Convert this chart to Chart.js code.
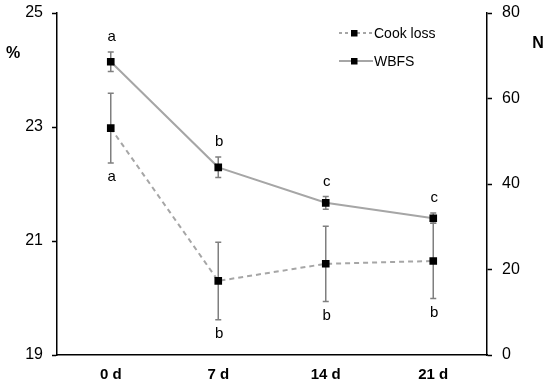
<!DOCTYPE html>
<html>
<head>
<meta charset="utf-8">
<script src="https://cdn.jsdelivr.net/npm/chart.js@4.4.1/dist/chart.umd.min.js"></script>
<style>
html,body{margin:0;padding:0;background:#fff;}
canvas{display:block;}
</style>
</head>
<body>
<canvas id="c" width="550" height="386"></canvas>
<script>
const categories = ['0 d', '7 d', '14 d', '21 d'];
const cookLoss = [22.98, 20.30, 20.60, 20.65];
const cookLossErr = [0.61, 0.68, 0.66, 0.66];
const cookLossLetters = ['a', 'b', 'b', 'b'];
const wbfs = [68.6, 43.9, 35.6, 32.0];
const wbfsErr = [2.3, 2.4, 1.5, 1.2];
const wbfsLetters = ['a', 'b', 'c', 'c'];
const leftTicks = [19, 21, 23, 25];
const rightTicks = [0, 20, 40, 60, 80];

const FONT = "'Liberation Sans', Arial, sans-serif";
const LINE_GRAY = '#a6a6a6';
const ERR_GRAY = '#7f7f7f';

const errPlugin = {
  id: 'errbars',
  beforeDatasetsDraw(chart) {
    const ctx = chart.ctx;
    const sets = [
      {vals: cookLoss, err: cookLossErr, axis: 'y'},
      {vals: wbfs, err: wbfsErr, axis: 'y1'}
    ];
    ctx.save();
    ctx.strokeStyle = ERR_GRAY;
    ctx.lineWidth = 1.5;
    sets.forEach(s => {
      const sc = chart.scales[s.axis];
      s.vals.forEach((v, i) => {
        const x = chart.scales.x.getPixelForValue(i);
        const yt = sc.getPixelForValue(v + s.err[i]);
        const yb = sc.getPixelForValue(v - s.err[i]);
        ctx.beginPath();
        ctx.moveTo(x, yt); ctx.lineTo(x, yb);
        ctx.moveTo(x - 3, yt); ctx.lineTo(x + 3, yt);
        ctx.moveTo(x - 3, yb); ctx.lineTo(x + 3, yb);
        ctx.stroke();
      });
    });
    ctx.restore();
  },
  afterDatasetsDraw(chart) {
    const ctx = chart.ctx;
    ctx.save();
    ctx.fillStyle = '#000';
    ctx.font = '15px ' + FONT;
    ctx.textAlign = 'center';
    ctx.textBaseline = 'middle';
    wbfs.forEach((v, i) => {
      const x = chart.scales.x.getPixelForValue(i);
      const y = chart.scales.y1.getPixelForValue(v + wbfsErr[i]);
      ctx.fillText(wbfsLetters[i], x + 1, y - 15);
    });
    cookLoss.forEach((v, i) => {
      const x = chart.scales.x.getPixelForValue(i);
      const y = chart.scales.y.getPixelForValue(v - cookLossErr[i]);
      ctx.fillText(cookLossLetters[i], x + 1, y + 14);
    });
    // axis titles
    ctx.font = 'bold 16px ' + FONT;
    ctx.fillText('%', 13, 54);
    ctx.fillText('N', 538, 44);
    // legend
    const items = [
      {label: 'Cook loss', dash: [3, 3], y: 33},
      {label: 'WBFS', dash: [], y: 61}
    ];
    items.forEach(it => {
      ctx.strokeStyle = LINE_GRAY;
      ctx.lineWidth = 2;
      ctx.setLineDash(it.dash);
      ctx.beginPath();
      ctx.moveTo(339, it.y); ctx.lineTo(373, it.y);
      ctx.stroke();
      ctx.setLineDash([]);
      ctx.fillStyle = '#000';
      ctx.fillRect(354 - 3, it.y - 3, 6.5, 6.5);
      ctx.font = '14px ' + FONT;
      ctx.textAlign = 'left';
      ctx.fillText(it.label, 374, it.y + 1);
    });
    ctx.restore();
  }
};

new Chart(document.getElementById('c'), {
  type: 'line',
  data: {
    labels: categories,
    datasets: [
      {
        label: 'Cook loss',
        data: cookLoss,
        yAxisID: 'y',
        borderColor: LINE_GRAY,
        borderWidth: 2,
        borderDash: [5, 4],
        pointStyle: 'rect',
        pointRadius: 5.4,
        pointBackgroundColor: '#000',
        pointBorderColor: '#000',
        pointBorderWidth: 0,
        tension: 0
      },
      {
        label: 'WBFS',
        data: wbfs,
        yAxisID: 'y1',
        borderColor: LINE_GRAY,
        borderWidth: 2,
        pointStyle: 'rect',
        pointRadius: 5.4,
        pointBackgroundColor: '#000',
        pointBorderColor: '#000',
        pointBorderWidth: 0,
        tension: 0
      }
    ]
  },
  options: {
    responsive: false,
    animation: false,
    devicePixelRatio: 1,
    layout: {padding: {top: 13, left: 0, right: 0, bottom: 0}},
    plugins: {legend: {display: false}, tooltip: {enabled: false}},
    scales: {
      x: {
        type: 'category',
        offset: true,
        grid: {display: false, drawTicks: false, tickLength: 0},
        border: {display: true, color: '#000', width: 1.5},
        ticks: {color: '#000', font: {family: FONT, size: 15, weight: 'bold'}, padding: 11},
        afterFit: s => { s.height = 31; s.paddingLeft = 0; s.paddingRight = 0; }
      },
      y: {
        position: 'left',
        min: 19, max: 25,
        afterBuildTicks: s => { s.ticks = leftTicks.map(v => ({value: v})); },
        grid: {drawOnChartArea: false, drawTicks: true, tickLength: 5, tickColor: '#000', tickWidth: 1.5},
        border: {display: true, color: '#000', width: 1.5},
        ticks: {color: '#000', font: {family: FONT, size: 16}, padding: 9},
        afterFit: s => { s.width = 57; s.paddingTop = 0; s.paddingBottom = 0; }
      },
      y1: {
        position: 'right',
        min: 0, max: 80,
        afterBuildTicks: s => { s.ticks = rightTicks.map(v => ({value: v})); },
        grid: {drawOnChartArea: false, drawTicks: true, tickLength: 5, tickColor: '#000', tickWidth: 1.5},
        border: {display: true, color: '#000', width: 1.5},
        ticks: {color: '#000', font: {family: FONT, size: 16}, padding: 10},
        afterFit: s => { s.width = 63; s.paddingTop = 0; s.paddingBottom = 0; }
      }
    }
  },
  plugins: [errPlugin]
});
</script>
</body>
</html>
